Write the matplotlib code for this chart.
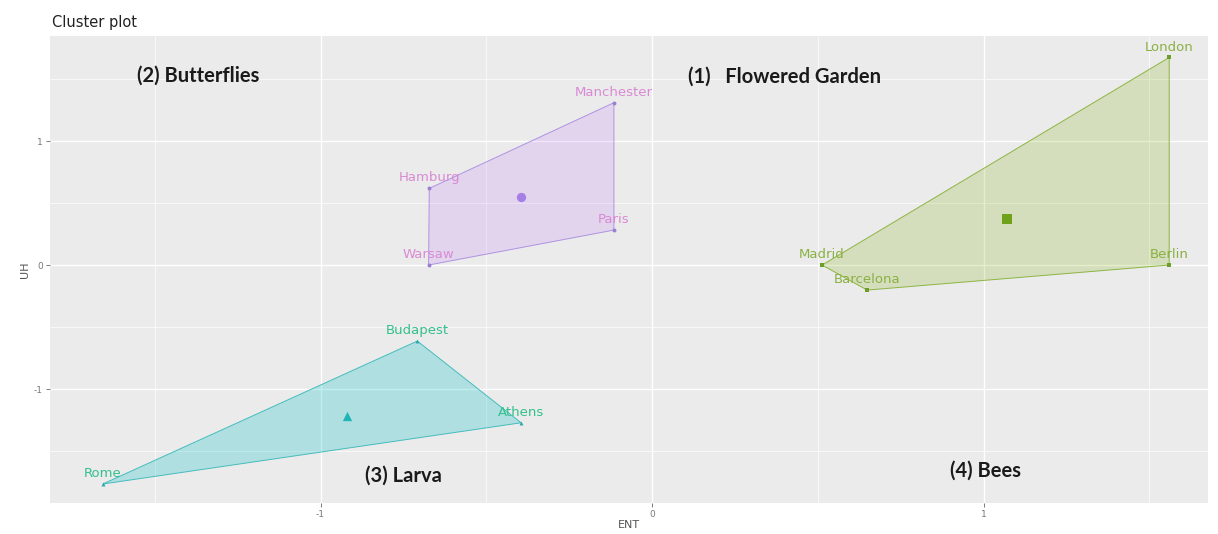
import numpy as np
import matplotlib
matplotlib.use("Agg")
import matplotlib.pyplot as plt
from matplotlib.patches import Polygon

# ---------------- data ----------------
cities = ["London", "Berlin", "Madrid", "Barcelona",
          "Manchester", "Hamburg", "Warsaw", "Paris",
          "Budapest", "Athens", "Rome"]
ent = [1.560, 1.560, 0.513, 0.649,
       -0.115, -0.672, -0.674, -0.115,
       -0.708, -0.395, -1.657]
uh = [1.674, 0.000, 0.000, -0.202,
      1.309, 0.618, 0.000, 0.282,
      -0.613, -1.272, -1.766]
cluster = [1, 1, 1, 1, 2, 2, 2, 2, 3, 3, 3]

cluster_ids = [1, 2, 3]
cluster_fill = {1: "#7CAE00", 2: "#C77CFF", 3: "#00BFC4"}
cluster_alpha = {1: 0.2, 2: 0.2, 3: 0.25}
cluster_edge = {1: "#8DB543", 2: "#AE92E2", 3: "#45BCBC"}
cluster_pt = {1: "#6E9E2A", 2: "#9A7FD0", 3: "#2AA8A8"}
cluster_ctr = {1: "#6FA21A", 2: "#A57FE6", 3: "#1FB5B5"}
cluster_text = {1: "#8BB043", 2: "#D98AD4", 3: "#34C08E"}
cluster_marker = {1: "s", 2: "o", 3: "^"}

x_ticks = [-1, 0, 1]
y_ticks = [-1, 0, 1]
x_minor = [-1.5, -0.5, 0.5, 1.5]
y_minor = [-1.5, -0.5, 0.5, 1.5]

annot_text = ["(2) Butterflies", "(1)   Flowered Garden", "(3) Larva", "(4) Bees"]
annot_x = [-1.553, 0.109, -0.866, 0.899]
annot_y = [1.524, 1.516, -1.702, -1.661]

# ---------------- helpers ----------------
def hull(pts):
    pts = sorted(set(pts))
    if len(pts) <= 2:
        return pts
    def cross(o, a, b):
        return (a[0]-o[0])*(b[1]-o[1]) - (a[1]-o[1])*(b[0]-o[0])
    lower, upper = [], []
    for p in pts:
        while len(lower) >= 2 and cross(lower[-2], lower[-1], p) <= 0:
            lower.pop()
        lower.append(p)
    for p in reversed(pts):
        while len(upper) >= 2 and cross(upper[-2], upper[-1], p) <= 0:
            upper.pop()
        upper.append(p)
    return lower[:-1] + upper[:-1]

# ---------------- figure ----------------
fig = plt.figure(figsize=(12.18, 5.34), dpi=100)
ax = fig.add_axes([50/1218, 1-503/534, (1208-50)/1218, (503-36)/534])
ax.set_facecolor("#EBEBEB")
ax.set_xlim(-1.816, 1.677)
ax.set_ylim(-1.919, 1.847)

ax.set_xticks(x_ticks)
ax.set_yticks(y_ticks)
ax.set_xticks(x_minor, minor=True)
ax.set_yticks(y_minor, minor=True)
ax.set_xticklabels([str(t) for t in x_ticks])
ax.set_yticklabels([str(t) for t in y_ticks])
ax.grid(which="major", color="white", linewidth=1.0)
ax.grid(which="minor", color="white", linewidth=0.5)
ax.set_axisbelow(True)
for s in ax.spines.values():
    s.set_visible(False)
ax.tick_params(which="major", length=3, width=0.6, color="#666666",
               labelsize=6.5, labelcolor="#777777", pad=2)
ax.tick_params(which="minor", length=0)

ent_a = np.array(ent)
uh_a = np.array(uh)
cl_a = np.array(cluster)

for c in cluster_ids:
    m = cl_a == c
    pts = list(zip(ent_a[m], uh_a[m]))
    h = hull(pts)
    ax.add_patch(Polygon(h, closed=True, facecolor=cluster_fill[c], alpha=cluster_alpha[c],
                         edgecolor="none", zorder=2))
    ax.add_patch(Polygon(h, closed=True, facecolor="none",
                         edgecolor=cluster_edge[c], linewidth=0.7, zorder=3))
    ax.scatter(ent_a[m], uh_a[m], s=8, color=cluster_pt[c], zorder=4,
               marker=cluster_marker[c], linewidths=0)
    ax.scatter([ent_a[m].mean()], [uh_a[m].mean()], s=45, color=cluster_ctr[c],
               marker=cluster_marker[c], zorder=5, linewidths=0)

for name, x, y, c in zip(cities, ent, uh, cluster):
    ax.annotate(name, (x, y), xytext=(0, 7.5), textcoords="offset points",
                ha="center", va="center", fontsize=9.5, color=cluster_text[c],
                family="DejaVu Sans", zorder=6)

for t, x, y in zip(annot_text, annot_x, annot_y):
    ax.text(x, y, t, ha="left", va="center", fontsize=14.5, fontweight="bold",
            family="Lato", color="#1a1a1a", zorder=7)

ax.set_xlabel("ENT", fontsize=8, color="#555555", labelpad=1)
ax.set_ylabel("UH", fontsize=8, color="#555555", labelpad=3)
fig.text(52/1218, 1-23/534, "Cluster plot", ha="left", va="center",
         fontsize=10.5, color="#222222")

fig.savefig("out.png", dpi=100)
